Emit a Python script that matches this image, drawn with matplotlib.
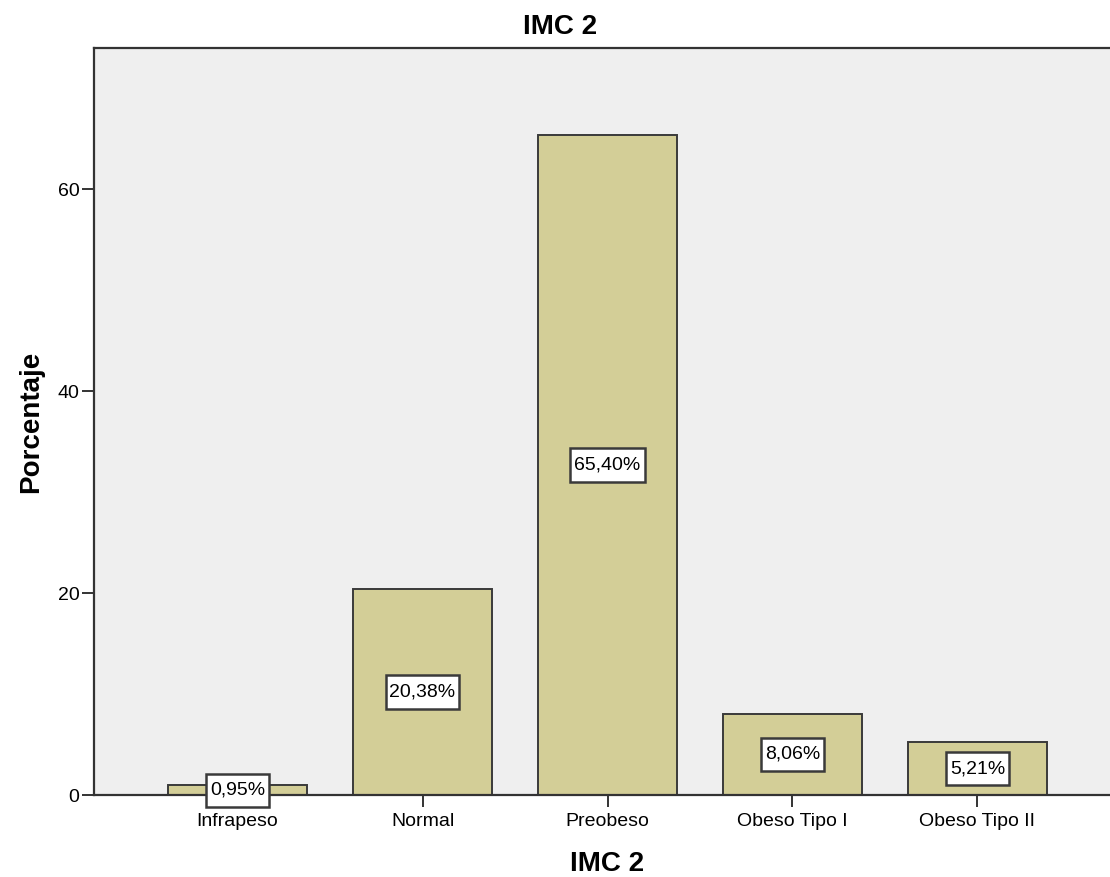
import matplotlib
matplotlib.use("Agg")
import matplotlib.pyplot as plt

categories = ["Infrapeso", "Normal", "Preobeso", "Obeso Tipo I", "Obeso Tipo II"]
percentages = [0.95, 20.38, 65.40, 8.06, 5.21]
value_labels = ["0,95%", "20,38%", "65,40%", "8,06%", "5,21%"]
y_ticks = [0, 20, 40, 60]

plt.rcParams["font.family"] = ["Liberation Sans", "DejaVu Sans"]

fig = plt.figure(figsize=(11.10, 8.77), dpi=100)
ax = fig.add_axes([94 / 1110, 1 - 795 / 877, (1121 - 94) / 1110, (795 - 48) / 877])
ax.set_facecolor("#EFEFEF")

x = list(range(len(categories)))
ax.bar(x, percentages, width=0.75, color="#D3CE97", edgecolor="#3A3A3A", linewidth=1.4, zorder=2)

for xi, v, lab in zip(x, percentages, value_labels):
    ax.text(xi, v / 2, lab, ha="center", va="center", fontsize=14, color="black", zorder=4,
            bbox=dict(boxstyle="square,pad=0.2", mutation_aspect=2.1,
                      facecolor="white", edgecolor="#3A3A3A", linewidth=1.8))

ax.set_xlim(-0.776, 4.776)
ax.set_ylim(0, 74)
ax.set_yticks(y_ticks)
ax.set_yticklabels([str(t) for t in y_ticks], fontsize=14)
ax.set_xticks(x)
ax.set_xticklabels(categories, fontsize=14)
ax.tick_params(axis="both", direction="out", length=8.5, width=1.4, color="#333333", pad=2)
ax.tick_params(axis="x", pad=4.5)

for side in ["left", "top", "bottom", "right"]:
    ax.spines[side].set_color("#333333")
    ax.spines[side].set_linewidth(1.6)

fig.text(560 / 1110, 1 - 27 / 877, "IMC 2", fontsize=20, fontweight="bold",
         ha="center", va="center")
ax.set_xlabel("IMC 2", fontsize=20, fontweight="bold", labelpad=15)
ax.set_ylabel("Porcentaje", fontsize=20, fontweight="bold", labelpad=10)

fig.savefig("out.png", dpi=100)
